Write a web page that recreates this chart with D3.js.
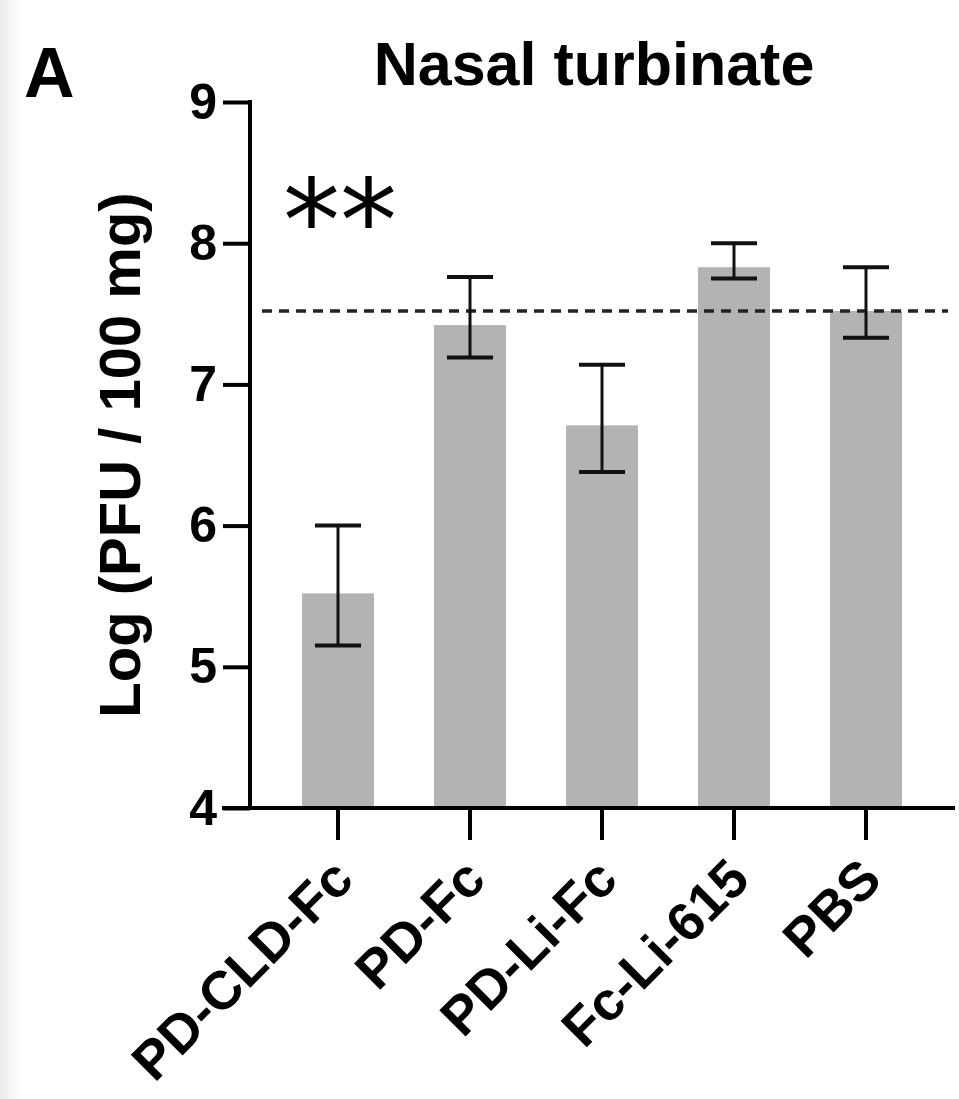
<!DOCTYPE html>
<html>
<head>
<meta charset="utf-8">
<script src="https://cdn.jsdelivr.net/npm/d3@7"></script>
<style>
  body { margin: 0; background: #fff; }
  text { font-family: "Liberation Sans", Arial, sans-serif; }
</style>
</head>
<body>
<div id="container"></div>
<script>
/* CONSTANTS AND GLOBALS */
const width = 959;
const height = 1099;

// chart data
const groups = ["PD-CLD-Fc", "PD-Fc", "PD-Li-Fc", "Fc-Li-615", "PBS"];
const means = [5.52, 7.42, 6.71, 7.83, 7.52];
const errLow = [5.15, 7.19, 6.38, 7.75, 7.33];
const errHigh = [6.0, 7.76, 7.14, 8.0, 7.83];
const yTicks = [4, 5, 6, 7, 8, 9];
const refLine = 7.52; // dashed line = PBS mean

const data = groups.map((g, i) => ({ group: g, mean: means[i], lo: errLow[i], hi: errHigh[i] }));

const svg = d3.select("#container")
  .append("svg")
  .attr("width", width)
  .attr("height", height);

// soft grey strip on the left edge, like the scanned figure
const grad = svg.append("defs").append("linearGradient")
  .attr("id", "edge");
grad.append("stop").attr("offset", "0%").attr("stop-color", "#ececec");
grad.append("stop").attr("offset", "100%").attr("stop-color", "#ffffff");
svg.append("rect").attr("x", 0).attr("y", 0).attr("width", 22).attr("height", height).attr("fill", "url(#edge)");

const xScale = d3.scaleBand()
  .domain(groups)
  .range([272, 932])
  .paddingInner(0.4545)
  .paddingOuter(0.2273);

const yScale = d3.scaleLinear()
  .domain([4, 9])
  .range([808, 102]);

/* BARS */
svg.selectAll("rect.bar")
  .data(data)
  .join("rect")
  .attr("class", "bar")
  .attr("x", d => xScale(d.group))
  .attr("y", d => yScale(d.mean))
  .attr("width", xScale.bandwidth())
  .attr("height", d => yScale(4) - yScale(d.mean))
  .attr("fill", "#b3b3b3");

/* DASHED REFERENCE LINE */
svg.append("line")
  .attr("x1", 262)
  .attr("x2", 948)
  .attr("y1", yScale(refLine))
  .attr("y2", yScale(refLine))
  .attr("stroke", "#222")
  .attr("stroke-width", 3.5)
  .attr("stroke-dasharray", "10,7");

/* ERROR BARS */
const eb = svg.selectAll("g.err")
  .data(data)
  .join("g")
  .attr("class", "err")
  .attr("transform", d => `translate(${xScale(d.group) + xScale.bandwidth() / 2},0)`);

eb.append("line")
  .attr("y1", d => yScale(d.lo))
  .attr("y2", d => yScale(d.hi))
  .attr("stroke", "#111")
  .attr("stroke-width", 3);

eb.selectAll("line.cap")
  .data(d => [d.lo, d.hi])
  .join("line")
  .attr("class", "cap")
  .attr("x1", -23)
  .attr("x2", 23)
  .attr("y1", v => yScale(v))
  .attr("y2", v => yScale(v))
  .attr("stroke", "#111")
  .attr("stroke-width", 4);

/* AXES */
const yAxis = d3.axisLeft(yScale)
  .tickValues(yTicks)
  .tickFormat(d3.format("d"))
  .tickSizeInner(27)
  .tickSizeOuter(0)
  .tickPadding(6);

const yAxisGroup = svg.append("g")
  .attr("transform", "translate(250,0)")
  .call(yAxis);

yAxisGroup.select(".domain")
  .attr("stroke", "#000")
  .attr("stroke-width", 4)
  .attr("d", `M0,${yScale(9) - 2}V${yScale(4)}`);

yAxisGroup.selectAll(".tick line")
  .attr("stroke", "#000")
  .attr("stroke-width", 4);

yAxisGroup.selectAll(".tick text")
  .attr("font-family", "Liberation Sans, Arial, sans-serif")
  .attr("font-size", 50)
  .attr("font-weight", "bold")
  .attr("fill", "#000");

// x axis line runs from the 4 tick to the right edge
svg.append("line")
  .attr("x1", 222)
  .attr("x2", 955)
  .attr("y1", yScale(4))
  .attr("y2", yScale(4))
  .attr("stroke", "#000")
  .attr("stroke-width", 4);

const xAxis = d3.axisBottom(xScale)
  .tickSizeInner(32)
  .tickSizeOuter(0);

const xAxisGroup = svg.append("g")
  .attr("transform", `translate(0,${yScale(4)})`)
  .call(xAxis);

xAxisGroup.select(".domain").remove();

xAxisGroup.selectAll(".tick line")
  .attr("stroke", "#000")
  .attr("stroke-width", 4);

xAxisGroup.selectAll(".tick text")
  .attr("font-family", "Liberation Sans, Arial, sans-serif")
  .attr("font-size", 54)
  .attr("font-weight", "bold")
  .attr("fill", "#000")
  .attr("text-anchor", "end")
  .attr("dy", 0)
  .attr("y", 0)
  .attr("transform", "translate(18,74) rotate(-45)");

/* TITLES AND LABELS */
svg.append("text")
  .attr("x", 594)
  .attr("y", 85)
  .attr("text-anchor", "middle")
  .attr("font-size", 61)
  .attr("font-weight", "bold")
  .text("Nasal turbinate");

svg.append("text")
  .attr("x", 24)
  .attr("y", 97)
  .attr("font-size", 70)
  .attr("font-weight", "bold")
  .text("A");

svg.append("text")
  .attr("transform", "translate(140,455) rotate(-90)")
  .attr("text-anchor", "middle")
  .attr("font-size", 58)
  .attr("font-weight", "bold")
  .text("Log (PFU / 100 mg)");

svg.append("text")
  .attr("x", 283)
  .attr("y", 261)
  .style("font-family", "DejaVu Sans")
  .attr("font-size", 114)
  .text("**");
</script>
</body>
</html>
